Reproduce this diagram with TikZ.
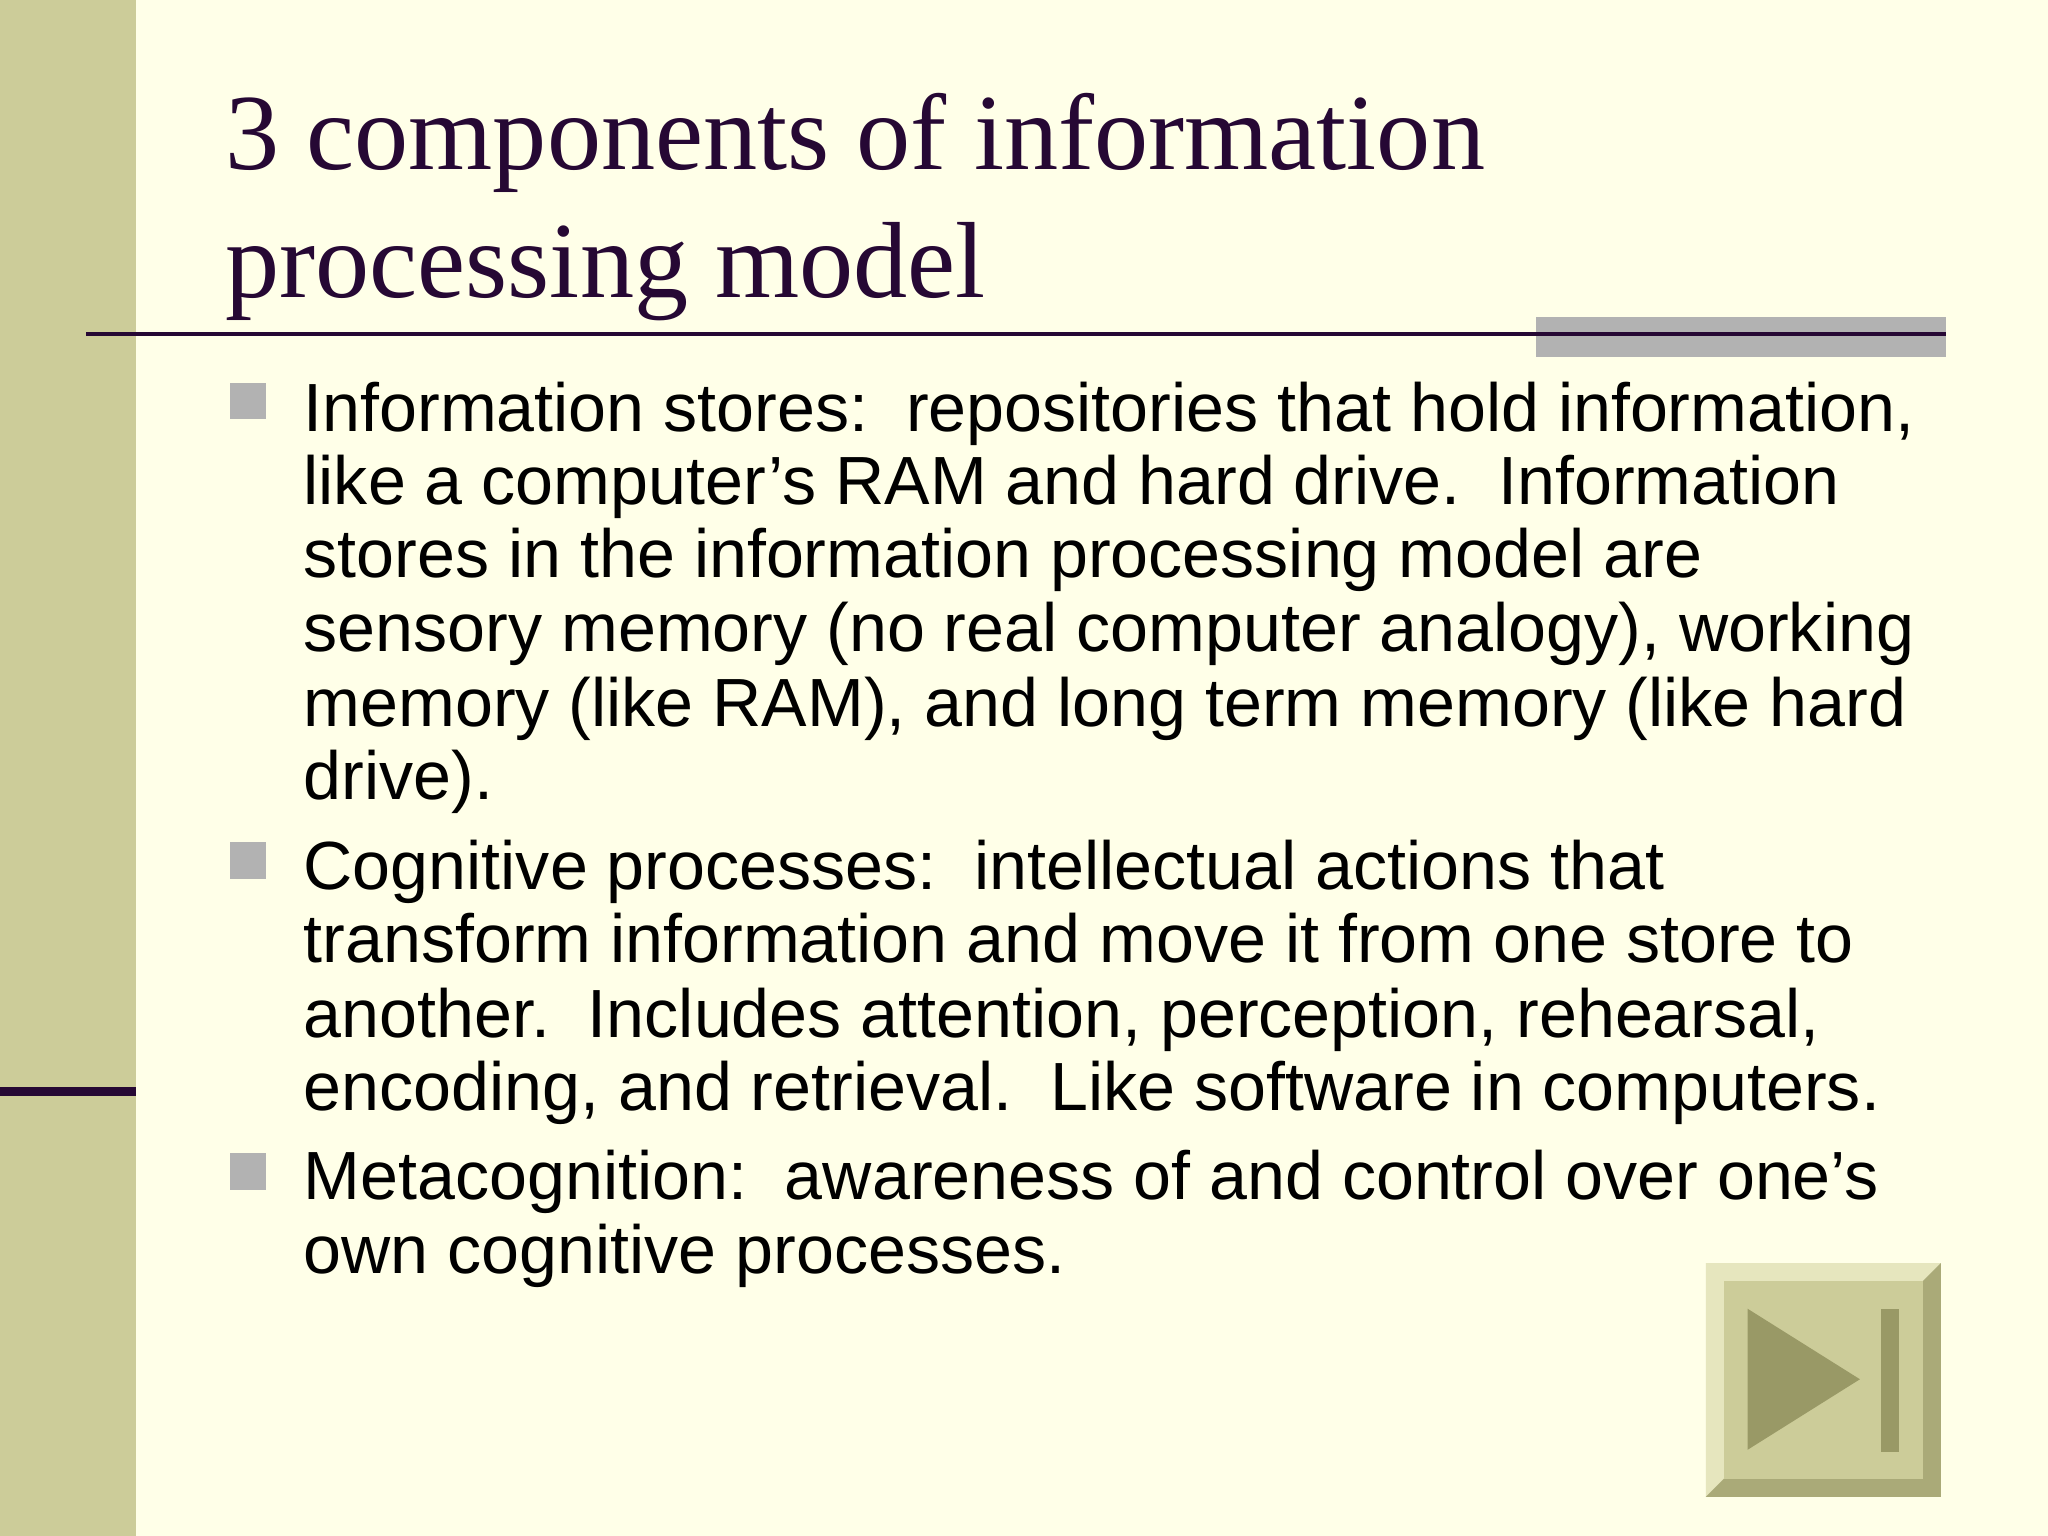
\documentclass[tikz,border=0pt]{standalone}
\usepackage{fontspec}
\setmainfont{Liberation Sans}
\newfontfamily\titlefont{Liberation Serif}
\definecolor{bg}{RGB}{255,255,232}
\definecolor{olive}{RGB}{204,204,153}
\definecolor{oliveD}{RGB}{153,153,102}
\definecolor{oliveL}{RGB}{230,230,190}
\definecolor{oliveS}{RGB}{170,170,120}
\definecolor{purp}{RGB}{38,8,52}
\definecolor{gbar}{RGB}{178,178,178}
\begin{document}
\begin{tikzpicture}[x=0.013061cm,y=-0.013061cm,
  ttl/.style={anchor=base west,inner sep=0,font=\titlefont\fontsize{30.8}{36}\selectfont,text=purp},
  bl/.style={anchor=base west,inner sep=0,font=\fontsize{19.4}{22}\selectfont},
  sq/.style={fill=gbar,draw=none}]
\useasboundingbox (0,0) rectangle (1568,1176);
\fill[bg] (0,0) rectangle (1568,1176);
\fill[olive] (0,0) rectangle (104,1176);
\fill[purp] (0,832) rectangle (104,839);
\fill[gbar] (1176,243) rectangle (1490,273);
\draw[purp,line width=1.2pt] (66,256) -- (1490,256);
\node[ttl] (t1) at (172,130) {3 components of information};
\node[ttl] (t2) at (172,228) {processing model};
\foreach \y in {293,645,883} \fill[sq] (176,\y) rectangle (204,\y+28);
\node[bl] (a1) at (232,330) {Information stores:\ \ repositories that hold information,};
\node[bl] (a2) at (232,386) {like a computer’s RAM and hard drive.\ \ Information};
\node[bl] (a3) at (232,442) {stores in the information processing model are};
\node[bl] (a4) at (232,499) {sensory memory (no real computer analogy), working};
\node[bl] (a5) at (232,556) {memory (like RAM), and long term memory (like hard};
\node[bl] (a6) at (232,612) {drive).};
\node[bl] (b1) at (232,681) {Cognitive processes:\ \ intellectual actions that};
\node[bl] (b2) at (232,737) {transform information and move it from one store to};
\node[bl] (b3) at (232,794) {another.\ \ Includes attention, perception, rehearsal,};
\node[bl] (b4) at (232,850) {encoding, and retrieval.\ \ Like software in computers.};
\node[bl] (c1) at (232,918) {Metacognition:\ \ awareness of and control over one’s};
\node[bl] (c2) at (232,975) {own cognitive processes.};
% button
\fill[oliveL] (1306,967) -- (1486,967) -- (1472,981) -- (1320,981) -- (1320,1132) -- (1306,1146) -- cycle;
\fill[oliveS] (1486,967) -- (1486,1146) -- (1306,1146) -- (1320,1132) -- (1472,1132) -- (1472,981) -- cycle;
\fill[olive] (1320,981) rectangle (1472,1132);
\fill[oliveD] (1338,1002) -- (1424,1056) -- (1338,1110) -- cycle;
\fill[oliveD] (1440,1002) rectangle (1454,1112);
\end{tikzpicture}
\end{document}
